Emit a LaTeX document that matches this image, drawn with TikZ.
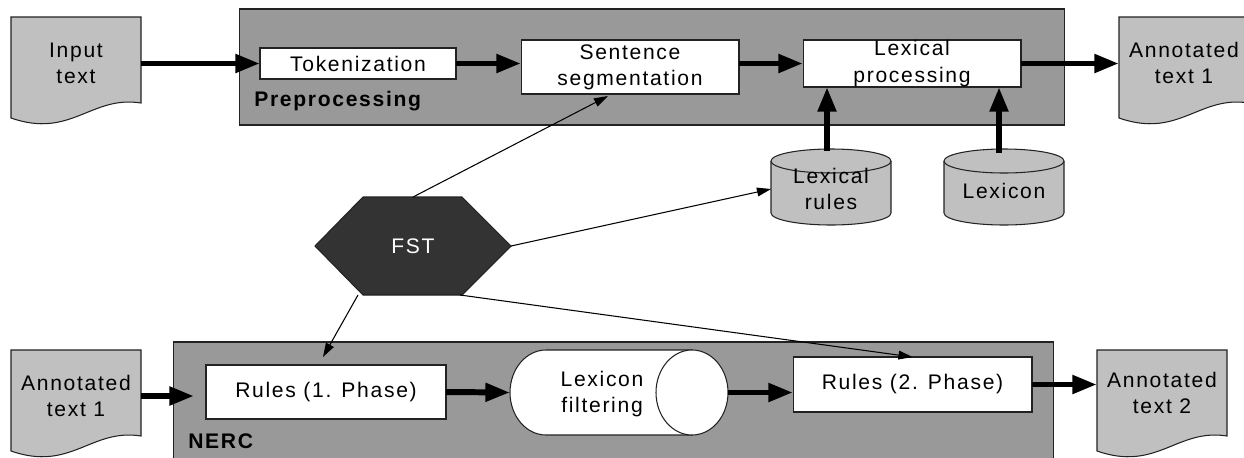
\documentclass[tikz,border=0pt]{standalone}
\usepackage{fontspec}
\setmainfont{Liberation Sans}[LetterSpace=8]
\usetikzlibrary{arrows.meta,calc}

\definecolor{panel}{HTML}{999999}
\definecolor{docgray}{HTML}{C0C0C0}
\definecolor{fstdark}{HTML}{333333}
\definecolor{edge}{HTML}{222222}

% document sheet with a wavy lower edge; #1,#2 = top-left corner
\newcommand\docsheet[2]{%
  \filldraw[sheet] (#1,#2) -- ({#1+130},#2) -- ({#1+130},{#2+86})
    .. controls ({#1+80},{#2+78}) and ({#1+60},{#2+122}) .. (#1,{#2+101}) -- cycle;}

% upright storage drum; #1 = centre x, #2 = top y
\newcommand\drum[2]{%
  \filldraw[sheet] ({#1-60},{#2+12}) -- ({#1-60},{#2+64})
    arc[start angle=180, end angle=0, x radius=60, y radius=12]
    -- ({#1+60},{#2+12});
  \draw[sheet] (#1,{#2+12}) ellipse[x radius=60, y radius=12];}

\begin{document}
\begin{tikzpicture}[x=0.02cm, y=-0.02cm,
  txt/.style={font=\fontsize{12}{15}\selectfont, align=center, inner sep=0pt, outer sep=0pt},
  lab/.style={font=\fontsize{12}{15}\selectfont\bfseries, inner sep=0pt},
  box/.style={txt, draw=edge, fill=white, line width=0.6pt},
  frame/.style={draw=edge, fill=panel, line width=0.6pt, inner sep=0pt, outer sep=0pt},
  sheet/.style={draw=edge, fill=docgray, line width=0.6pt},
  shell/.style={inner sep=0pt, outer sep=0pt},
  heavy/.style={line width=3.4pt, -{Triangle[length=14pt,width=10pt]}},
  light/.style={line width=0.6pt, -{Triangle[length=8pt,width=5pt]}}]

\clip (0,0) rectangle (1244,457);
\useasboundingbox (0,0) rectangle (1244,457);
\fill[white] (0,0) rectangle (1244,457);

% ---------- preprocessing stage ----------
\node[frame, minimum width=16.52cm, minimum height=2.32cm] (pre) at (652,67) {};
\node[box, minimum width=3.92cm, minimum height=0.62cm] (tok) at (358,63.5) {Tokenization};
\node[lab, anchor=base west] (prelab) at (254,106) {Preprocessing};
\node[box, minimum width=4.36cm, minimum height=1.08cm] (sent) at (630,67) {Sentence\\segmentation};
\node[box, minimum width=4.36cm, minimum height=0.94cm] (lex) at (912,63.5) {Lexical\\processing};

\docsheet{11}{17}
\node[txt, minimum width=2.6cm, minimum height=1.72cm] (in) at (76,63.5) {Input\\text};
\docsheet{1119}{17}
\node[txt, minimum width=2.6cm, minimum height=1.72cm] (out1) at (1184,63) {Annotated\\text 1};

\drum{831}{149}
\node[txt, shell, minimum width=2.4cm, minimum height=1.52cm] (lrules) at (831,189) {Lexical\\rules};
\drum{1004}{149}
\node[txt, shell, minimum width=2.4cm, minimum height=1.52cm] (lexicon) at (1004,191) {Lexicon};

% ---------- transducer ----------
\filldraw[draw=edge, fill=fstdark, line width=0.6pt]
  (315,246) -- (363,197) -- (462,197) -- (511,246) -- (462,295) -- (363,295) -- cycle;
\node[txt, shell, text=white, minimum width=3.92cm, minimum height=1.96cm] (fst) at (413,246) {FST};

% ---------- NERC stage ----------
\node[frame, minimum width=17.62cm, minimum height=2.56cm] (nerc) at (613.5,406) {};
\node[lab, anchor=base west] (nerclab) at (188,448) {NERC};
\node[box, minimum width=4.8cm, minimum height=1.08cm] (r1) at (326,392) {Rules (1. Phase)};

\node[shell, minimum width=4.36cm, minimum height=1.7cm] (lexf) at (619,392.5) {};
\filldraw[draw=edge, fill=white, line width=0.6pt]
  (546,350) arc[start angle=270, end angle=90, x radius=36, y radius=42.5]
  -- (692,435) -- (692,350) -- cycle;
\draw[draw=edge, fill=white, line width=0.6pt] (692,392.5) ellipse[x radius=36, y radius=42.5];
\node[txt] (lexft) at (602,394) {Lexicon\\filtering};

\node[box, minimum width=4.78cm, minimum height=1.1cm] (r2) at (912.5,384.5) {Rules (2. Phase)};

\docsheet{11}{350}
\node[txt, minimum width=2.6cm, minimum height=1.72cm] (ann1) at (76,396) {Annotated\\text 1};
\docsheet{1097}{350}
\node[txt, minimum width=2.6cm, minimum height=1.72cm] (ann2) at (1162,393) {Annotated\\text 2};

% ---------- data flow ----------
\draw[heavy] (in.east) -- (tok.west);
\draw[heavy] (tok.east) -- (tok.east -| sent.west);
\draw[heavy] (sent.east |- lex.west) -- (lex.west);
\draw[heavy] (lex.east) -- (lex.east -| out1.west);
\draw[heavy] ($(lrules.north)+(-4,0)$) -- ($(lrules.north |- lex.south)+(-4,0)$);
\draw[heavy] ($(lexicon.north)+(-5,0)$) -- ($(lexicon.north |- lex.south)+(-5,0)$);

\draw[light] (fst.north) -- ($(sent.south)+(-22,2)$);
\draw[light] (fst.east) -- (lrules.west);
\draw[light] ($(fst.south)+(-55,0)$) -- ($(r1.north)+(-3,-8)$);
\draw[light] ($(fst.south)+(47,0)$) -- (r2.north);

\draw[heavy] (ann1.east) -- ($(nerc.west |- ann1.east)+(21,0)$);
\draw[heavy] (r1.east) -- (lexf.west);
\draw[heavy] (lexf.east) -- (lexf.east -| r2.west);
\draw[heavy] (r2.east) -- (r2.east -| ann2.west);
\end{tikzpicture}
\end{document}
